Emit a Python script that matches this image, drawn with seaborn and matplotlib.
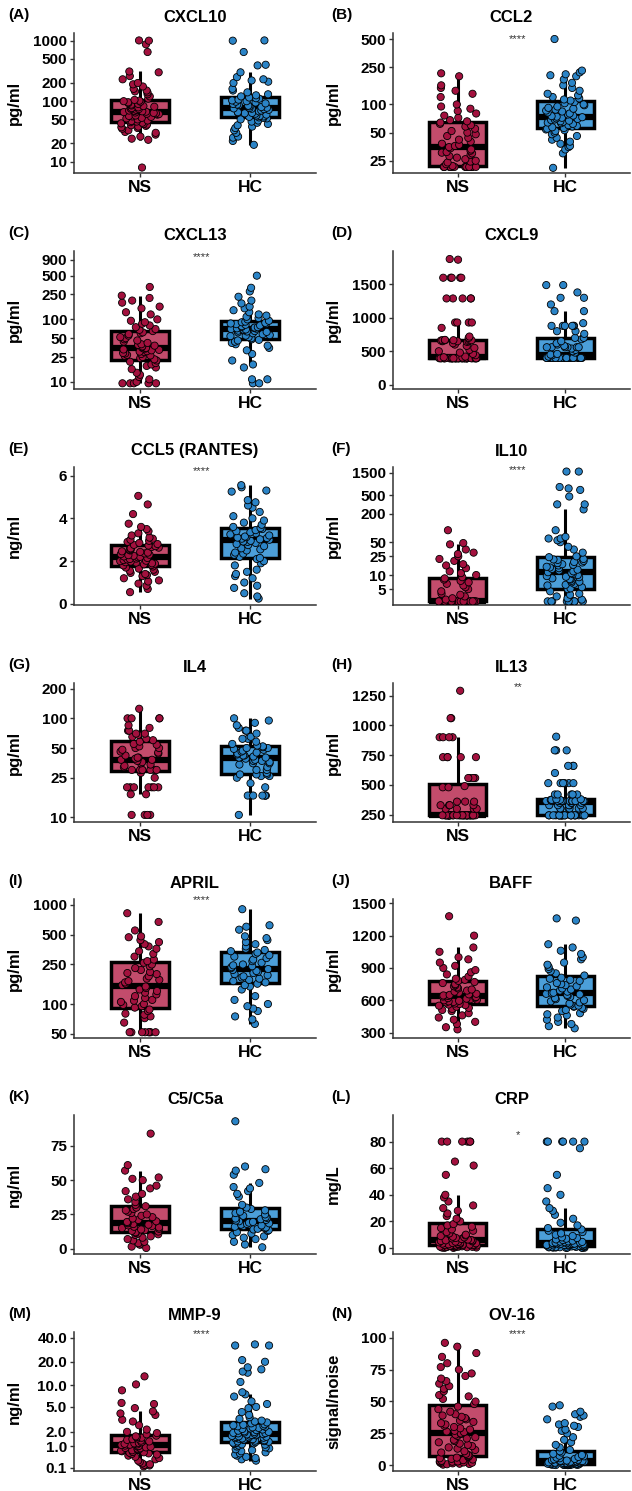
import numpy as np
import pandas as pd
import matplotlib
matplotlib.use("Agg")
import matplotlib.pyplot as plt
from matplotlib.ticker import FixedLocator, FixedFormatter, NullLocator
import seaborn as sns

sns.set_theme(style="ticks")
plt.rcParams["font.family"] = ["Liberation Sans", "DejaVu Sans"]
plt.rcParams["font.weight"] = "bold"
plt.rcParams["text.color"] = "black"
plt.rcParams["axes.labelcolor"] = "black"

GROUPS = ["NS", "HC"]

CXCL10_NS = [8, 23, 24, 26, 28, 30, 31, 33, 35, 36, 37, 38, 39, 40, 41, 42, 43, 44, 45, 46, 47, 48, 50, 52, 53, 55, 56, 57, 58, 60, 61, 62, 63, 64, 65, 66, 67, 68, 69, 70, 72, 74, 75, 77, 79, 81, 83, 85, 88, 90, 93, 96, 98, 100, 102, 105, 110, 120, 130, 140, 145, 150, 160, 175, 190, 200, 230, 260, 300, 310, 650, 870, 1000, 1010]
CXCL10_HC = [19, 22, 25, 26, 30, 33, 36, 38, 40, 42, 44, 46, 48, 50, 52, 53, 54, 55, 56, 57, 58, 60, 62, 63, 64, 65, 66, 68, 70, 72, 74, 75, 76, 77, 78, 80, 82, 84, 86, 88, 90, 92, 95, 98, 100, 103, 106, 110, 112, 115, 120, 125, 130, 140, 150, 160, 200, 210, 220, 230, 250, 300, 390, 400, 650, 1000, 1010]

CCL2_NS = [21.5, 21.5, 21.5, 21.5, 21.5, 21.5, 21.5, 21.5, 21.5, 21.5, 21.5, 21.5, 21.5, 21.5, 21.5, 21.5, 22, 23, 24, 24.5, 25, 26, 27, 28, 29, 30, 30.5, 31, 32, 33, 34, 35, 36, 37, 38, 40, 42, 44, 46, 48, 50, 52, 55, 58, 60, 62, 64, 66, 68, 72, 76, 80, 85, 90, 95, 100, 120, 130, 140, 150, 160, 200, 215]
CCL2_HC = [21, 30, 33, 35, 36, 38, 40, 42, 44, 46, 48, 50, 52, 53, 54, 55, 56, 57, 58, 59, 60, 62, 63, 64, 65, 66, 67, 68, 69, 70, 71, 72, 73, 74, 75, 76, 78, 80, 82, 84, 86, 88, 90, 92, 95, 98, 100, 103, 106, 110, 113, 116, 120, 125, 130, 140, 150, 160, 170, 185, 200, 205, 210, 220, 230, 500]

CXCL13_NS = [9.5, 9.5, 9.5, 9.5, 9.5, 10, 11, 12, 13, 14, 16, 17, 18, 19, 20, 21, 22, 23, 24, 25, 26, 26.5, 27, 28, 28.5, 29, 30, 30.5, 31, 32, 32.5, 33, 34, 34.5, 35, 36, 37, 38, 39, 40, 42, 44, 46, 48, 50, 52, 55, 58, 60, 62, 65, 68, 70, 75, 80, 85, 90, 95, 100, 120, 130, 150, 160, 185, 200, 220, 240, 330]
CXCL13_HC = [9.5, 9.5, 11, 11, 17, 19, 22, 28, 32, 35, 38, 40, 42, 44, 46, 47, 48, 50, 52, 54, 55, 56, 58, 60, 62, 63, 64, 65, 66, 67, 68, 69, 70, 71, 72, 73, 74, 75, 76, 78, 80, 82, 84, 85, 86, 88, 90, 92, 95, 100, 105, 110, 115, 120, 130, 140, 150, 160, 180, 200, 230, 280, 320, 500]

CXCL9_NS = [395, 395, 395, 395, 395, 395, 395, 395, 395, 395, 395, 395, 395, 395, 395, 395, 395, 395, 395, 395, 395, 395, 395, 395, 395, 395, 395, 395, 395, 395, 395, 395, 395, 395, 395, 395, 395, 395, 405, 410, 420, 440, 460, 480, 500, 520, 550, 580, 600, 620, 640, 650, 650, 650, 660, 660, 665, 665, 665, 665, 670, 700, 720, 850, 930, 930, 930, 930, 1290, 1290, 1290, 1290, 1290, 1600, 1600, 1600, 1600, 1600, 1870, 1880]
CXCL9_HC = [400, 400, 400, 400, 400, 400, 400, 400, 400, 400, 400, 400, 400, 400, 400, 400, 400, 400, 400, 400, 400, 400, 400, 400, 400, 400, 400, 400, 400, 400, 400, 400, 400, 400, 400, 400, 420, 440, 450, 460, 480, 500, 520, 540, 560, 560, 560, 560, 560, 560, 580, 600, 620, 650, 680, 700, 700, 760, 800, 800, 880, 880, 880, 880, 880, 880, 920, 1100, 1100, 1200, 1300, 1300, 1380, 1490, 1490]

CCL5_NS = [0.55, 0.7, 0.85, 0.95, 1.05, 1.1, 1.2, 1.3, 1.35, 1.4, 1.45, 1.5, 1.55, 1.6, 1.65, 1.7, 1.75, 1.8, 1.82, 1.85, 1.88, 1.9, 1.93, 1.95, 1.98, 2.0, 2.02, 2.05, 2.08, 2.1, 2.12, 2.15, 2.18, 2.2, 2.22, 2.25, 2.28, 2.3, 2.33, 2.36, 2.4, 2.43, 2.46, 2.5, 2.53, 2.56, 2.6, 2.63, 2.66, 2.7, 2.73, 2.76, 2.8, 2.85, 2.9, 2.95, 3.0, 3.05, 3.1, 3.2, 3.3, 3.4, 3.5, 3.6, 3.75, 4.2, 4.65, 5.05]
CCL5_HC = [0.25, 0.35, 0.5, 0.75, 0.85, 1.0, 1.2, 1.3, 1.4, 1.5, 1.6, 1.8, 1.9, 2.0, 2.1, 2.15, 2.2, 2.3, 2.35, 2.4, 2.5, 2.55, 2.6, 2.7, 2.75, 2.8, 2.85, 2.9, 2.92, 2.95, 3.0, 3.02, 3.05, 3.08, 3.1, 3.12, 3.15, 3.2, 3.25, 3.3, 3.35, 3.4, 3.45, 3.5, 3.55, 3.6, 3.7, 3.8, 3.9, 4.0, 4.1, 4.3, 4.5, 4.6, 4.75, 4.85, 5.25, 5.3, 5.45, 5.55]

IL10_NS = [2.75, 2.75, 2.75, 2.75, 2.75, 2.75, 2.75, 2.75, 2.75, 2.75, 2.75, 2.75, 2.75, 2.75, 2.75, 2.75, 2.75, 2.75, 2.75, 2.75, 2.75, 2.75, 2.75, 2.75, 2.75, 2.75, 2.75, 2.75, 2.75, 2.75, 2.75, 2.75, 2.75, 2.75, 3, 3.2, 3.5, 3.8, 4, 4.5, 5, 5.5, 6, 6.5, 7, 7.5, 8, 8.5, 9, 10, 11, 12, 14, 16, 17, 20, 22, 25, 28, 30, 35, 45, 48, 90]
IL10_HC = [2.75, 2.75, 2.75, 2.75, 2.75, 2.75, 2.75, 2.75, 2.75, 2.75, 2.75, 2.75, 3, 3.2, 3.5, 3.8, 4, 4.5, 5, 5.2, 5.5, 6, 6.2, 6.5, 7, 7.2, 7.5, 8, 8.2, 8.5, 9, 9.2, 9.5, 10, 10.5, 11, 11.5, 12, 12.5, 13, 13.5, 14, 14.5, 15, 16, 16.5, 17, 18, 18.5, 19, 20, 21, 21.5, 22, 24, 25, 30, 35, 40, 50, 55, 60, 60, 65, 90, 250, 320, 320, 470, 650, 700, 750, 1600, 1600]

IL4_NS = [10.5, 10.5, 10.5, 10.5, 17, 17, 20, 20, 20, 20, 20, 20, 20, 25, 28, 30, 30, 30, 30, 30, 30, 30, 30, 32, 33, 34, 35, 36, 37, 38, 38, 39, 40, 40, 42, 44, 45, 46, 48, 50, 50, 52, 54, 55, 58, 60, 62, 65, 68, 70, 70, 75, 75, 80, 85, 100, 100, 100, 100, 125]
IL4_HC = [10.5, 16.5, 16.5, 16.5, 16.5, 16.5, 16.5, 20, 22, 25, 26, 26, 27, 27, 27, 28, 30, 30, 32, 34, 35, 35, 36, 37, 37, 38, 39, 40, 40, 41, 42, 42, 43, 44, 45, 46, 47, 48, 49, 50, 50, 51, 52, 53, 55, 58, 62, 62, 65, 70, 75, 75, 80, 85, 90, 95, 100]

IL13_NS = [245, 245, 245, 245, 245, 245, 245, 245, 245, 245, 245, 245, 245, 245, 245, 245, 245, 245, 245, 245, 245, 245, 245, 245, 245, 245, 245, 245, 245, 245, 245, 245, 245, 245, 300, 300, 300, 300, 330, 330, 330, 330, 360, 360, 360, 480, 480, 490, 558, 558, 558, 558, 733, 733, 733, 733, 733, 900, 900, 900, 900, 1060, 1060, 1290]
IL13_HC = [245, 245, 245, 245, 245, 245, 245, 245, 245, 245, 245, 245, 245, 245, 245, 245, 245, 245, 245, 245, 245, 245, 245, 245, 303, 303, 303, 303, 303, 303, 330, 330, 330, 330, 330, 350, 350, 350, 350, 365, 365, 365, 365, 365, 365, 365, 365, 365, 365, 365, 365, 365, 365, 375, 375, 375, 375, 380, 380, 420, 420, 420, 420, 420, 515, 515, 515, 515, 515, 515, 600, 660, 660, 660, 790, 790, 790, 905]

APRIL_NS = [52, 52, 52, 52, 52, 52, 52, 52, 65, 72, 75, 78, 80, 85, 88, 92, 95, 98, 100, 105, 108, 110, 115, 120, 125, 130, 135, 140, 145, 150, 155, 160, 165, 170, 175, 180, 190, 200, 205, 210, 220, 230, 240, 250, 260, 270, 280, 300, 320, 340, 360, 380, 400, 420, 440, 470, 480, 550, 670, 820]
APRIL_HC = [63, 70, 75, 85, 90, 95, 100, 110, 120, 140, 150, 155, 160, 165, 170, 175, 180, 185, 190, 195, 200, 205, 210, 215, 220, 225, 230, 235, 240, 245, 250, 260, 270, 280, 290, 300, 310, 320, 330, 340, 350, 360, 380, 400, 420, 440, 460, 480, 560, 600, 620, 900]

BAFF_NS = [330, 350, 380, 400, 420, 440, 460, 480, 500, 510, 520, 530, 540, 550, 555, 560, 565, 570, 580, 585, 590, 595, 600, 605, 610, 615, 620, 625, 630, 635, 640, 645, 650, 655, 660, 670, 680, 690, 700, 710, 720, 730, 740, 750, 760, 770, 780, 790, 800, 820, 840, 860, 880, 900, 920, 950, 980, 1000, 1050, 1090, 1200, 1380]
BAFF_HC = [340, 360, 380, 400, 420, 440, 460, 470, 480, 500, 510, 520, 530, 540, 545, 550, 560, 570, 580, 590, 600, 610, 620, 630, 640, 650, 655, 660, 665, 670, 680, 690, 700, 710, 720, 730, 740, 750, 760, 780, 790, 800, 810, 830, 850, 870, 890, 910, 930, 950, 980, 1000, 1030, 1060, 1090, 1120, 1340, 1360]

C5A_NS = [0.5, 1.5, 3, 4, 5, 6, 7, 8, 9, 10, 10.5, 11, 11.5, 12, 12.5, 13, 13.5, 14, 14.5, 15, 15.5, 16, 16.5, 17, 17.5, 18, 18.5, 19, 19.5, 20, 21, 22, 23, 24, 25, 26, 27, 28, 29, 30, 31, 32, 34, 36, 38, 40, 42, 44, 46, 50, 51, 52, 57, 61, 84]
C5A_HC = [1, 3, 5, 7, 8, 9, 10, 11, 12, 13, 13.5, 14, 14.5, 15, 15.5, 16, 16.5, 17, 17.5, 18, 18.5, 19, 19.5, 20, 20.5, 21, 21.5, 22, 22.5, 23, 24, 25, 26, 27, 28, 29, 30, 32, 38, 40, 42, 44, 45, 48, 54, 57, 58, 60, 93]

CRP_NS = [0.1, 0.2, 0.3, 0.4, 0.5, 0.6, 0.7, 0.8, 0.9, 1, 1.1, 1.2, 1.3, 1.4, 1.5, 1.6, 1.7, 1.8, 1.9, 2, 2.1, 2.2, 2.3, 2.4, 2.6, 2.8, 3, 3.1, 3.3, 3.6, 3.8, 4, 4.3, 4.6, 4.8, 5, 5.3, 5.6, 5.8, 6, 6.4, 6.8, 7.2, 7.6, 8, 8.5, 9, 9.5, 10, 11, 12, 13, 14, 15, 16, 17, 18, 20, 22, 24, 26, 28, 30, 32, 35, 38, 40, 55, 62, 65, 80, 80, 80, 80, 80, 80]
CRP_HC = [0.1, 0.15, 0.2, 0.25, 0.3, 0.35, 0.4, 0.45, 0.5, 0.6, 0.7, 0.8, 0.9, 1, 1.1, 1.2, 1.3, 1.4, 1.5, 1.6, 1.8, 2, 2.1, 2.2, 2.3, 2.4, 2.6, 2.7, 2.8, 3, 3.1, 3.2, 3.3, 3.4, 3.5, 3.6, 3.8, 4, 4.2, 4.4, 4.6, 4.8, 5, 5.5, 6, 6.5, 7, 7.5, 8, 9, 10, 11, 12, 13, 14, 15, 17, 19, 22, 25, 28, 30, 35, 40, 45, 55, 75, 80, 80, 80, 80, 80, 80]

MMP9_NS = [0.15, 0.18, 0.2, 0.22, 0.25, 0.3, 0.35, 0.4, 0.45, 0.5, 0.55, 0.6, 0.62, 0.65, 0.68, 0.7, 0.72, 0.75, 0.78, 0.8, 0.82, 0.85, 0.88, 0.9, 0.92, 0.95, 0.98, 1.0, 1.02, 1.05, 1.08, 1.1, 1.12, 1.15, 1.18, 1.2, 1.25, 1.3, 1.35, 1.4, 1.45, 1.5, 1.55, 1.6, 1.65, 1.7, 1.8, 1.9, 2.0, 2.2, 2.6, 3.0, 3.2, 3.8, 4.0, 4.3, 4.8, 5.5, 5.7, 8.5, 10.2, 13]
MMP9_HC = [0.35, 0.4, 0.45, 0.5, 0.55, 0.6, 0.65, 0.7, 0.75, 0.8, 0.85, 0.9, 0.95, 1.0, 1.05, 1.1, 1.12, 1.15, 1.18, 1.2, 1.22, 1.25, 1.28, 1.3, 1.32, 1.35, 1.38, 1.4, 1.42, 1.45, 1.48, 1.5, 1.52, 1.55, 1.58, 1.6, 1.62, 1.65, 1.68, 1.7, 1.72, 1.75, 1.78, 1.8, 1.82, 1.85, 1.88, 1.9, 1.92, 1.95, 1.98, 2.0, 2.05, 2.1, 2.15, 2.2, 2.25, 2.3, 2.35, 2.4, 2.45, 2.5, 2.55, 2.6, 2.65, 2.7, 2.8, 2.9, 3.0, 3.1, 3.3, 3.5, 3.8, 4.2, 4.8, 5.0, 5.5, 6.0, 7.0, 7.5, 8.0, 11, 14.5, 15, 16, 17, 20, 21, 32, 32, 33]

OV16_NS = [0.5, 0.8, 1, 1.2, 1.5, 1.8, 2, 2.2, 2.5, 2.8, 3, 3.2, 3.5, 4, 4.5, 5, 5.5, 6, 6.5, 7, 7.5, 8, 9, 10, 11, 12, 13, 14, 15, 16, 17, 18, 19, 20, 21, 22, 23, 24, 24.5, 25, 26, 26.5, 27, 28, 29, 30, 31, 32, 33, 34, 35, 36, 37, 38, 39, 40, 42, 44, 46, 48, 50, 52, 54, 55, 58, 60, 62, 64, 66, 68, 70, 72, 75, 77, 80, 85, 88, 93, 96]
OV16_HC = [0.1, 0.15, 0.2, 0.25, 0.3, 0.35, 0.4, 0.45, 0.5, 0.55, 0.6, 0.65, 0.7, 0.75, 0.8, 0.85, 0.9, 1.0, 1.05, 1.1, 1.2, 1.25, 1.3, 1.4, 1.5, 1.6, 1.7, 1.8, 1.9, 2.0, 2.1, 2.2, 2.3, 2.4, 2.5, 2.6, 2.7, 2.8, 2.9, 3.0, 3.1, 3.2, 3.3, 3.4, 3.5, 3.7, 4.0, 4.3, 4.6, 5.0, 5.5, 6.0, 6.5, 7.0, 7.5, 8.0, 9.0, 10, 11, 12, 14, 16, 18, 20, 22, 25, 27, 28, 30, 31, 32, 33, 36, 38, 39, 40, 42, 46, 47]

LETTERS = ["A", "B", "C", "D", "E", "F", "G", "H", "I", "J", "K", "L", "M", "N"]
TITLES = ["CXCL10", "CCL2", "CXCL13", "CXCL9", "CCL5 (RANTES)", "IL10", "IL4", "IL13",
          "APRIL", "BAFF", "C5/C5a", "CRP", "MMP-9", "OV-16"]
YLABELS = ["pg/ml", "pg/ml", "pg/ml", "pg/ml", "ng/ml", "pg/ml", "pg/ml", "pg/ml",
           "pg/ml", "pg/ml", "ng/ml", "mg/L", "ng/ml", "signal/noise"]
SCALES = ["log", "log", "log", "linear", "linear", "log", "log", "linear",
          "log", "linear", "linear", "linear", "log1p", "linear"]
TICKS = [[10, 20, 50, 100, 200, 500, 1000], [25, 50, 100, 250, 500],
         [10, 25, 50, 100, 250, 500, 900], [0, 500, 1000, 1500], [0, 2, 4, 6],
         [5, 10, 25, 50, 200, 500, 1500], [10, 25, 50, 100, 200],
         [250, 500, 750, 1000, 1250], [50, 100, 250, 500, 1000],
         [300, 600, 900, 1200, 1500], [0, 25, 50, 75], [0, 20, 40, 60, 80],
         [0.1, 1, 2, 5, 10, 20, 40], [0, 25, 50, 75, 100]]
TICK_LABELS = [None] * 12 + [["0.1", "1.0", "2.0", "5.0", "10.0", "20.0", "40.0"], None]
YLIMS = [(6.5, 1340), (18.5, 580), (7.7, 1240), (-65, 2000), (-0.05, 6.4),
         (2.3, 2000), (8.9, 228), (189, 1355), (45.5, 1140), (250, 1540),
         (-3.9, 97.6), (-4.5, 100), (0.012, 47), (-4.5, 104.5)]
STARS = [None, "****", "****", None, "****", "****", None, "**", "****", None,
         None, "*", "****", "****"]
STAR_Y = [None, 500, 1000, None, 6.2, 1700, None, 1320, 1100, None, None, 85, 44, 103]
NS_DATA = [CXCL10_NS, CCL2_NS, CXCL13_NS, CXCL9_NS, CCL5_NS, IL10_NS, IL4_NS, IL13_NS,
           APRIL_NS, BAFF_NS, C5A_NS, CRP_NS, MMP9_NS, OV16_NS]
HC_DATA = [CXCL10_HC, CCL2_HC, CXCL13_HC, CXCL9_HC, CCL5_HC, IL10_HC, IL4_HC, IL13_HC,
           APRIL_HC, BAFF_HC, C5A_HC, CRP_HC, MMP9_HC, OV16_HC]

POINT_COLORS = {"NS": "#A3113E", "HC": "#2B84C7"}
BOX_COLORS = {"NS": "#C34C6C", "HC": "#4C9FD9"}


def log1p10(v):
    return np.log10(np.clip(v, 0, None) + 1.0)


def inv_log1p10(v):
    return np.power(10.0, v) - 1.0


W, H = 632, 1491
fig = plt.figure(figsize=(W / 100, H / 100), dpi=100)
COL_L = [74, 393]
COL_R = [316, 630]
ROW_T = [33, 251, 467, 683, 899, 1115, 1332]
ROW_B = [173, 389, 605, 822, 1038, 1254, 1471]
np.random.seed(3)

for i in range(14):
    r, c = divmod(i, 2)
    l, rr = COL_L[c], COL_R[c]
    t, b = ROW_T[r], ROW_B[r]
    ax = fig.add_axes([l / W, 1 - b / H, (rr - l) / W, (b - t) / H])
    if SCALES[i] == "log":
        ax.set_yscale("log")
    elif SCALES[i] == "log1p":
        ax.set_yscale("function", functions=(log1p10, inv_log1p10))
    ns, hc = NS_DATA[i], HC_DATA[i]
    df = pd.DataFrame({"group": ["NS"] * len(ns) + ["HC"] * len(hc),
                       "value": list(ns) + list(hc)})
    sns.boxplot(data=df, x="group", y="value", hue="group", order=GROUPS,
                hue_order=GROUPS, palette=BOX_COLORS, saturation=1, width=0.53,
                linewidth=2.5, linecolor="black", showfliers=False, showcaps=False,
                medianprops={"linewidth": 4.5, "color": "black"},
                whiskerprops={"linewidth": 2.2, "color": "black"},
                legend=False, ax=ax)
    sns.stripplot(data=df, x="group", y="value", hue="group", order=GROUPS,
                  hue_order=GROUPS, palette=POINT_COLORS, jitter=0.18, size=5.2,
                  linewidth=0.6, edgecolor="black", legend=False, zorder=3, ax=ax)
    ax.set_xlim(-0.6, 1.6)
    ax.set_ylim(*YLIMS[i])
    ax.yaxis.set_major_locator(FixedLocator(TICKS[i]))
    labels = TICK_LABELS[i] if TICK_LABELS[i] else [f"{v:g}" for v in TICKS[i]]
    ax.yaxis.set_major_formatter(FixedFormatter(labels))
    ax.yaxis.set_minor_locator(NullLocator())
    ax.set_xlabel("")
    ax.set_ylabel(YLABELS[i], fontsize=12, fontweight="bold", color="black")
    ax.yaxis.set_label_coords(-52 / (rr - l), 0.5)
    for s in ["top", "right"]:
        ax.spines[s].set_visible(False)
    for s in ["left", "bottom"]:
        ax.spines[s].set_color("#333333")
        ax.spines[s].set_linewidth(1.1)
    ax.tick_params(axis="y", length=3, width=1, color="#333333", labelsize=11,
                   pad=2, labelcolor="black")
    ax.tick_params(axis="x", length=3, width=1, color="#333333", labelsize=12.5,
                   pad=2, labelcolor="black")
    for lab in ax.get_xticklabels() + ax.get_yticklabels():
        lab.set_fontweight("bold")
    if STARS[i]:
        ax.text(0.56, STAR_Y[i], STARS[i], ha="center", va="center", fontsize=8,
                fontweight="normal", color="#333333")
    fig.text(((l + rr) / 2) / W, 1 - (t - 16) / H, TITLES[i], ha="center",
             va="center", fontsize=12, fontweight="bold", color="black")
    lx = 8 if c == 0 else 331
    fig.text(lx / W, 1 - (t - 18) / H, f"({LETTERS[i]})", ha="left", va="center",
             fontsize=11, fontweight="bold", color="black")

fig.savefig("out.png", dpi=100)
